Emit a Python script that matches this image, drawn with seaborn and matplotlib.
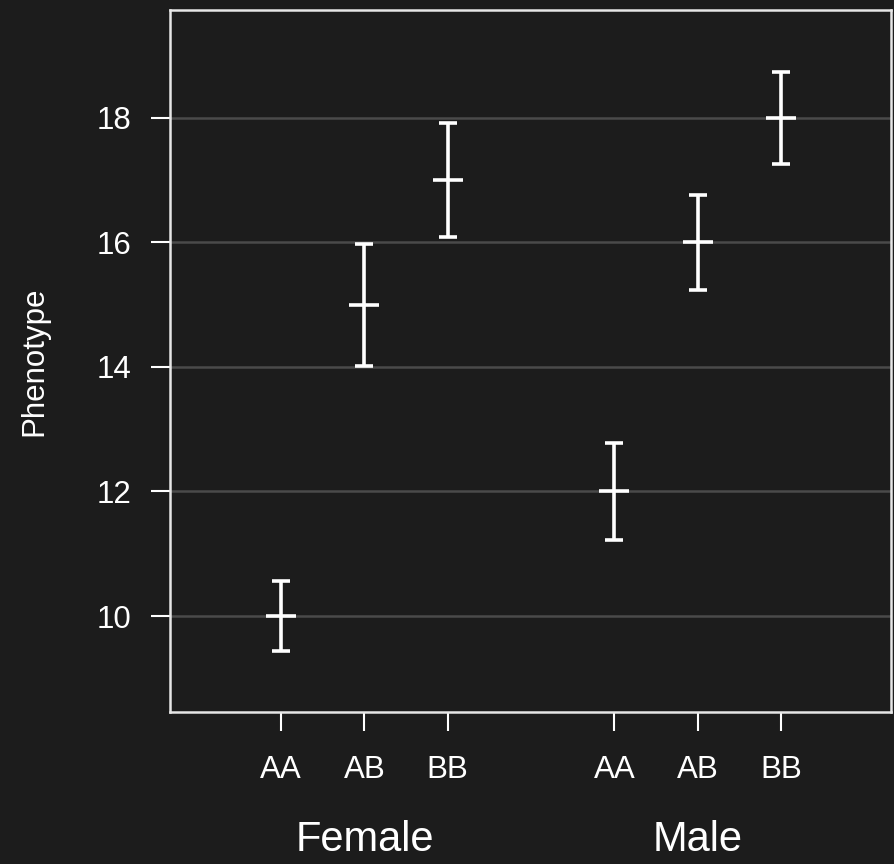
import numpy as np
import pandas as pd
import matplotlib
matplotlib.use('Agg')
import matplotlib.pyplot as plt
import matplotlib.transforms as mtransforms
import seaborn as sns

# data
sexes = ['Female', 'Female', 'Female', 'Male', 'Male', 'Male']
genotypes = ['AA', 'AB', 'BB', 'AA', 'AB', 'BB']
means = [10, 15, 17, 12, 16, 18]
errors = [0.56, 0.98, 0.92, 0.78, 0.76, 0.74]
group_names = ['Female', 'Male']
y_ticks = [10, 12, 14, 16, 18]

bg = '#1c1c1c'
fg = 'white'

sns.set_theme(style='dark', rc={
    'figure.facecolor': bg,
    'axes.facecolor': bg,
    'savefig.facecolor': bg,
    'axes.edgecolor': '#e6e6e6',
    'text.color': fg,
    'axes.labelcolor': fg,
    'xtick.color': fg,
    'ytick.color': fg,
})
plt.rcParams['font.family'] = ['Liberation Sans', 'DejaVu Sans']

df = pd.DataFrame({'sex': sexes, 'genotype': genotypes,
                   'mean': means, 'err': errors})
# position of each cell: one slot gap between the two groups
df['pos'] = [i + group_names.index(s) for i, s in enumerate(df['sex'])]

fig = plt.figure(figsize=(8.95, 8.64), dpi=100)
ax = fig.add_axes([0.19, 0.176, 0.8055, 0.8125])

for y in y_ticks:
    ax.axhline(y, color='#4a4a4a', lw=1.8, zorder=0)

ax.errorbar(df['pos'], df['mean'], yerr=df['err'], fmt='none',
            ecolor=fg, elinewidth=2.6, capsize=6.2, capthick=2.6, zorder=3)
sns.scatterplot(data=df, x='pos', y='mean', marker='_', s=480,
                color=fg, linewidth=2.6, ax=ax, zorder=4)

ax.set_xlim(-1.333, 7.32)
ax.set_ylim(8.46, 19.73)
ax.set_yticks(y_ticks)
ax.set_xticks(df['pos'])
ax.set_xticklabels(df['genotype'])
ax.tick_params(axis='y', direction='out', length=14, width=1.5,
               pad=14, labelsize=22.5, left=True)
ax.tick_params(axis='x', direction='out', length=14, width=1.5,
               pad=17, labelsize=22.5, bottom=True)
ax.set_xlabel('')
ax.set_ylabel('Phenotype', fontsize=22.5)
ax.yaxis.set_label_coords(-0.168, 0.5)

for sp in ax.spines.values():
    sp.set_linewidth(1.8)
    sp.set_color('#e6e6e6')

# group labels under the genotype ticks
trans = mtransforms.blended_transform_factory(ax.transData, fig.transFigure)
for g in group_names:
    centre = df.loc[df['sex'] == g, 'pos'].mean()
    ax.text(centre, 1 - 840 / 864, g, transform=trans, ha='center',
            va='center', fontsize=30, color=fg)

fig.savefig('out.png', dpi=100, facecolor=bg)
